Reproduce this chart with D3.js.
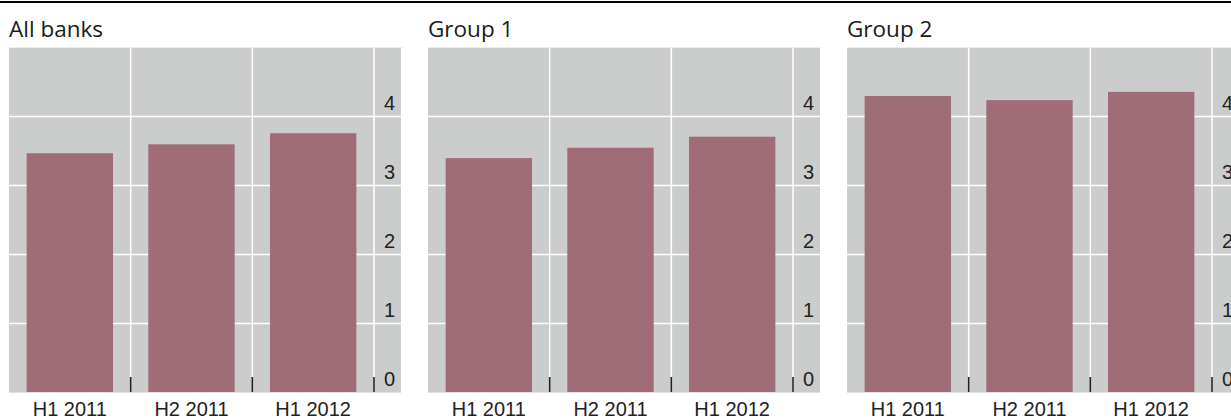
<!DOCTYPE html>
<html>
<head>
<meta charset="utf-8">
<script src="https://cdn.jsdelivr.net/npm/d3@7"></script>
<style>
  body { margin: 0; background: #fff; }
  svg { display: block; }
  .title { font-family: 'Open Sans', sans-serif; font-size: 22.5px; fill: #1a1a1a; }
  .xlab, .ylab { font-family: 'Liberation Sans', Arial, sans-serif; font-size: 20px; fill: #222; }
</style>
</head>
<body>
<svg width="1231" height="419"></svg>
<script>
const categories = ['H1 2011', 'H2 2011', 'H1 2012'];
const panelTitles = ['All banks', 'Group 1', 'Group 2'];
const allBanks = [3.46, 3.59, 3.75];
const group1 = [3.39, 3.54, 3.70];
const group2 = [4.29, 4.23, 4.35];
const yTicks = [0, 1, 2, 3, 4];

const series = [allBanks, group1, group2];

const svg = d3.select('svg');
const width = +svg.attr('width');

// heavy rule across the top
svg.append('rect')
  .attr('x', 0).attr('y', 1)
  .attr('width', width).attr('height', 2)
  .attr('fill', '#000');

const panelWidth = 392;  // grey area incl. label strip
const plotWidth = 365;   // bar zone
const plotTop = 47, plotBottom = 392;

const yScale = d3.scaleLinear().domain([0, 5]).range([plotBottom, plotTop]);

const xBands = d3.scaleBand().domain(categories).range([0, plotWidth]).padding(0);
const xBars = d3.scaleBand().domain(categories).range([0, plotWidth])
  .paddingInner(0.29).paddingOuter(0.145);

series.forEach((values, i) => {
  const data = categories.map((c, j) => ({ cat: c, value: values[j] }));
  const g = svg.append('g')
    .attr('transform', `translate(${9 + 419 * i},0)`);

  g.append('text')
    .attr('class', 'title')
    .attr('x', 0).attr('y', 37)
    .text(panelTitles[i]);

  // faint frame lines
  g.append('line')
    .attr('x1', 0).attr('x2', panelWidth + 2)
    .attr('y1', plotTop + 0.5).attr('y2', plotTop + 0.5)
    .attr('stroke', '#eee');
  g.append('line')
    .attr('x1', 0).attr('x2', panelWidth)
    .attr('y1', plotBottom + 0.5).attr('y2', plotBottom + 0.5)
    .attr('stroke', '#e2e2e2');

  g.append('rect')
    .attr('x', 0).attr('y', plotTop + 1)
    .attr('width', panelWidth).attr('height', plotBottom - plotTop - 1)
    .attr('fill', '#cbcdcc');

  // horizontal gridlines
  const yAxis = d3.axisRight(yScale)
    .tickValues(yTicks.filter(v => v > 0))
    .tickSize(panelWidth)
    .tickFormat('');
  const yAxisG = g.append('g').call(yAxis);
  yAxisG.select('.domain').remove();
  yAxisG.selectAll('line').attr('stroke', '#fff').attr('stroke-width', 1.5);

  // vertical gridlines + small dark ticks at band boundaries
  const bounds = categories.map(c => xBands(c) + xBands.bandwidth());
  g.selectAll('.vgrid').data(bounds)
    .enter().append('line')
      .attr('class', 'vgrid')
      .attr('x1', d => d).attr('x2', d => d)
      .attr('y1', plotTop + 1).attr('y2', 377)
      .attr('stroke', '#fff').attr('stroke-width', 1.5);
  g.selectAll('.vtick').data(bounds)
    .enter().append('line')
      .attr('class', 'vtick')
      .attr('x1', d => d).attr('x2', d => d)
      .attr('y1', 377).attr('y2', plotBottom)
      .attr('stroke', '#222').attr('stroke-width', 1.5);

  // bars
  g.selectAll('.bar').data(data)
    .enter().append('rect')
      .attr('class', 'bar')
      .attr('x', d => xBars(d.cat))
      .attr('width', xBars.bandwidth())
      .attr('y', d => yScale(d.value))
      .attr('height', d => yScale(0) - yScale(d.value))
      .attr('fill', '#a06c78');

  // y labels sit just above their gridline
  g.selectAll('.ylab').data(yTicks)
    .enter().append('text')
      .attr('class', 'ylab')
      .attr('x', plotWidth + 10)
      .attr('y', d => yScale(d) - 6)
      .text(d => d);

  // category labels
  g.selectAll('.xlab').data(categories)
    .enter().append('text')
      .attr('class', 'xlab')
      .attr('text-anchor', 'middle')
      .attr('x', d => xBands(d) + xBands.bandwidth() / 2)
      .attr('y', 416)
      .text(d => d);
});
</script>
</body>
</html>
